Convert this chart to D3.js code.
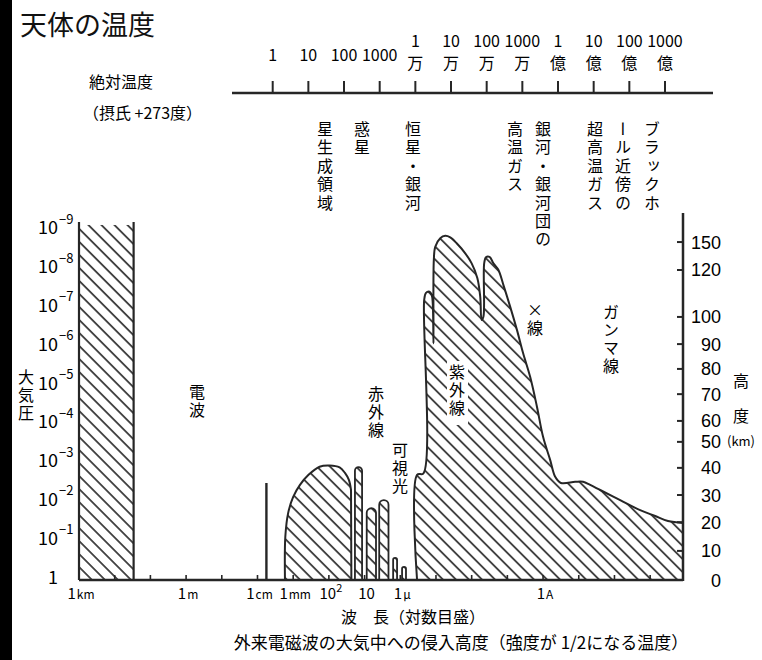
<!DOCTYPE html>
<html><head><meta charset="utf-8">
<script src="https://cdn.jsdelivr.net/npm/d3@7"></script>
<style>
body{margin:0;background:#fff;}
svg{display:block;font-family:"Noto Sans CJK JP","Noto Sans",sans-serif;}
</style></head><body>
<svg id="c" width="762" height="660"></svg>
<script>
// ---------- data ----------
// left axis: atmospheric pressure exponents (log10 atm)
const pressureExponents = [0,-1,-2,-3,-4,-5,-6,-7,-8,-9];
// right axis: altitude (km) and its pressure exponent
const altitudeKm = [0,10,20,30,40,50,60,70,80,90,100,120,150];
const altitudePressureExp = [0,-0.75,-1.49,-2.19,-2.89,-3.56,-4.10,-4.79,-5.44,-6.08,-6.78,-7.99,-8.71];
// bottom axis: wavelength exponents (log10 m) and labels
const wavelengthTickExp = [3,0,-2,-3,-4,-5,-6,-10];
const wavelengthNumbers = ['1','1','1','1','10','10','1','1'];
const wavelengthUnits = ['km','m','cm','mm','2','','μ','A'];
const wavelengthDecades = [2,1,0,-1,-2,-3,-4,-5,-6,-7,-8,-9,-10,-11,-12,-13];
// top axis: absolute temperature exponents (log10 K)
const temperatureExp = [0,1,2,3,4,5,6,7,8,9,10,11];
const temperatureNumbers = ['1','10','100','1000','1','10','100','1000','1','10','100','1000'];
const temperatureUnits = ['','','','','万','万','万','万','億','億','億','億'];
// penetration depth outlines: [log10 wavelength (m), log10 pressure (atm)]
const radioBand = [[3,-9.15],[1.47,-9.15]];
const radioSpike = [[-2.25,0],[-2.25,-2.5]];
const mmBand = [[-2.77,0],[-2.78,-1.12],[-2.86,-1.73],[-3.0,-2.14],[-3.19,-2.45],[-3.43,-2.71],[-3.74,-2.92],[-4.02,-2.95],[-4.30,-2.90],[-4.45,-2.76],[-4.56,-2.58],[-4.62,-2.32],[-4.63,0]];
const narrowBands = [[-4.73,-4.93,-2.91],[-5.06,-5.32,-1.85],[-5.41,-5.67,-2.06],[-5.80,-5.91,-0.57],[-6.05,-6.16,-0.34]];
const uvXrayGammaBand = [[-6.47,0],[-6.47,-2.71],[-6.65,-2.75],[-6.67,-7.22],[-6.72,-7.40],[-6.82,-7.43],[-6.88,-7.35],[-6.91,-7.13],[-6.93,-6.10],[-6.94,-8.25],[-6.98,-8.59],[-7.12,-8.81],[-7.26,-8.87],[-7.40,-8.83],[-7.58,-8.68],[-7.82,-8.42],[-8.00,-8.16],[-8.16,-7.78],[-8.24,-7.30],[-8.28,-6.70],[-8.33,-6.79],[-8.35,-8.16],[-8.40,-8.32],[-8.50,-8.33],[-8.61,-8.16],[-8.75,-7.99],[-8.89,-7.60],[-9.08,-7.04],[-9.27,-6.44],[-9.44,-5.85],[-9.64,-5.23],[-9.83,-4.46],[-10.00,-3.69],[-10.20,-3.09],[-10.34,-2.66],[-10.50,-2.50],[-10.90,-2.53],[-11.12,-2.53],[-11.32,-2.45],[-11.60,-2.32],[-12.16,-2.06],[-12.72,-1.80],[-13.14,-1.65],[-13.50,-1.52],[-13.92,-1.47],[-13.92,0]];

// ---------- drawing ----------
const svg = d3.select('#c');
const INK = '#262626';
const x = d3.scaleLinear().domain([3,-13.92]).range([79,683]);
const y = d3.scaleLinear().domain([0,-9]).range([580,580-9*38.8]);
const t = d3.scaleLinear().domain([0,11]).range([272.7,665]);

svg.append('rect').attr('x',0).attr('y',0).attr('width',762).attr('height',660).attr('fill','#fff');
svg.append('rect').attr('x',0).attr('y',0).attr('width',12).attr('height',660).attr('fill','#000');

const defs = svg.append('defs');
const pat = defs.append('pattern').attr('id','hatch').attr('patternUnits','userSpaceOnUse')
  .attr('width',9.2).attr('height',9.2).attr('patternTransform','rotate(45)');
pat.append('rect').attr('width',9.2).attr('height',9.2).attr('fill','#fff');
pat.append('line').attr('x1',-1).attr('x2',10.2).attr('y1',4.6).attr('y2',4.6)
  .attr('stroke',INK).attr('stroke-width',1.6);

// title
svg.append('text').attr('x',20).attr('y',35).attr('font-size',27).attr('fill','#111').text('天体の温度');

// top temperature axis
svg.append('text').attr('x',89).attr('y',88).attr('font-size',16).text('絶対温度');
svg.append('text').attr('x',83).attr('y',119).attr('font-size',16).text('（摂氏 +273度）');
svg.append('line').attr('x1',232).attr('x2',713).attr('y1',93).attr('y2',93).attr('stroke',INK).attr('stroke-width',2.5);
const tg = svg.append('g');
temperatureExp.forEach((e,i)=>{
  tg.append('line').attr('x1',t(e)).attr('x2',t(e)).attr('y1',81).attr('y2',93).attr('stroke',INK).attr('stroke-width',2);
  if(temperatureUnits[i]===''){
    tg.append('text').attr('x',t(e)).attr('y',61).attr('text-anchor','middle').attr('font-size',16).text(temperatureNumbers[i]);
  } else {
    tg.append('text').attr('x',t(e)).attr('y',47).attr('text-anchor','middle').attr('font-size',16).text(temperatureNumbers[i]);
    tg.append('text').attr('x',t(e)).attr('y',69).attr('text-anchor','middle').attr('font-size',16).text(temperatureUnits[i]);
  }
});

function vtext(str, cx, top, size, spacing){
  return svg.append('text').attr('x',cx).attr('y',top)
    .attr('style',`writing-mode:vertical-rl;font-size:${size}px;letter-spacing:${spacing}px`)
    .text(str);
}
// source labels
vtext('星生成領域',325,121,16,2.4);
vtext('惑星',362,121,16,2.4);
vtext('恒星・銀河',413,121,16,2.4);
vtext('高温ガス',515,121,16,2.4);
vtext('銀河・銀河団の',543,121,16,2.4);
vtext('超高温ガス',595,121,16,2.4);
vtext('ール近傍の',623,121,16,2.4);
vtext('ブラックホ',652,121,16,2.4);

// shapes
const line = d3.line().x(d=>x(d[0])).y(d=>y(d[1]));
const smooth = d3.line().x(d=>x(d[0])).y(d=>y(d[1])).curve(d3.curveCatmullRom.alpha(0.5));
function bandPath(pts){
  const last = pts[pts.length-1];
  return smooth(pts.slice(0,-1)) + `L${x(last[0])},${y(last[1])}`;
}

// radio column
svg.append('rect').attr('x',x(radioBand[0][0])).attr('y',y(radioBand[0][1]))
  .attr('width',x(radioBand[1][0])-x(radioBand[0][0])).attr('height',y(0)-y(radioBand[0][1]))
  .attr('fill','url(#hatch)');
svg.append('line').attr('x1',x(radioBand[1][0])).attr('x2',x(radioBand[1][0]))
  .attr('y1',y(radioBand[1][1])-3).attr('y2',y(0)).attr('stroke',INK).attr('stroke-width',2.2);
svg.append('path').attr('d',line(radioSpike)).attr('stroke',INK).attr('stroke-width',2.4).attr('fill','none');

svg.append('path').attr('d',bandPath(mmBand)).attr('fill','url(#hatch)').attr('stroke',INK).attr('stroke-width',2).attr('stroke-linejoin','round');
narrowBands.forEach(b=>{
  const x0=x(b[0]), x1=x(b[1]), yt=y(b[2]), yb=y(0), r=(x1-x0)/2;
  svg.append('path').attr('d',`M${x0},${yb}L${x0},${yt+r}A${r},${r} 0 0 1 ${x1},${yt+r}L${x1},${yb}`)
    .attr('fill','url(#hatch)').attr('stroke',INK).attr('stroke-width',1.8);
});
svg.append('path').attr('d',bandPath(uvXrayGammaBand)).attr('fill','url(#hatch)').attr('stroke',INK).attr('stroke-width',2).attr('stroke-linejoin','round');

// axes
svg.append('line').attr('x1',79).attr('x2',683).attr('y1',y(0)).attr('y2',y(0)).attr('stroke',INK).attr('stroke-width',2.5);
svg.append('line').attr('x1',79).attr('x2',79).attr('y1',y(radioBand[0][1])-3).attr('y2',y(0)).attr('stroke',INK).attr('stroke-width',2.2);
svg.append('line').attr('x1',683).attr('x2',683).attr('y1',213).attr('y2',y(0)+1).attr('stroke',INK).attr('stroke-width',2.5);
wavelengthDecades.forEach(e=>{
  svg.append('line').attr('x1',x(e)).attr('x2',x(e)).attr('y1',y(0)).attr('y2',y(0)-5).attr('stroke',INK).attr('stroke-width',1.6);
});

// left labels
pressureExponents.forEach(n=>{
  if(n===0){
    svg.append('text').attr('x',58).attr('y',y(n)+3.5).attr('text-anchor','end').attr('font-size',18).text('1');
  } else {
    svg.append('text').attr('x',58).attr('y',y(n)+3.5).attr('text-anchor','end').attr('font-size',18).text('10');
    svg.append('text').attr('x',59).attr('y',y(n)-7).attr('font-size',13).text('−'+(-n));
  }
});
vtext('大気圧',26,369,16,1.8);

// right labels
altitudeKm.forEach((a,i)=>{
  const yy=y(altitudePressureExp[i]);
  svg.append('line').attr('x1',677).attr('x2',683).attr('y1',yy).attr('y2',yy).attr('stroke',INK).attr('stroke-width',2);
  svg.append('text').attr('x',721).attr('y',yy+6.5).attr('text-anchor','end')
    .attr('font-family','"Liberation Sans", Arial, sans-serif').attr('font-size',18).text(a);
});
svg.append('text').attr('x',741).attr('y',387).attr('text-anchor','middle').attr('font-size',16).text('高');
svg.append('text').attr('x',741).attr('y',422).attr('text-anchor','middle').attr('font-size',16).text('度');
svg.append('text').attr('x',741).attr('y',446).attr('text-anchor','middle').attr('font-size',13).text('(km)');

// bottom labels
wavelengthTickExp.forEach((e,i)=>{
  const tx = svg.append('text').attr('x',x(e)+2).attr('y',599).attr('text-anchor','middle').attr('font-size',15);
  tx.append('tspan').text(wavelengthNumbers[i]);
  if(wavelengthUnits[i]==='2'){
    tx.append('tspan').attr('font-size',11).attr('dy',-7).text('2');
  } else if(wavelengthUnits[i]!==''){
    tx.append('tspan').attr('font-size',12).attr('dx',1).text(wavelengthUnits[i]);
  }
});
svg.append('text').attr('x',413).attr('y',623).attr('text-anchor','middle').attr('font-size',16).text('波　長（対数目盛）');
svg.append('text').attr('x',461).attr('y',649).attr('text-anchor','middle').attr('font-size',17).text('外来電磁波の大気中への侵入高度（強度が 1/2になる温度）');

// band names
vtext('電波',197,384,16,2.4);
vtext('赤外線',376,386,16,1.8);
vtext('可視光',400,442,16,2);
svg.append('rect').attr('x',447).attr('y',361).attr('width',21).attr('height',64).attr('fill','#fff');
vtext('紫外線',457,364,16,2);
vtext('×線',535,302,16,2);
vtext('ガンマ線',611,304,16,2);
</script>
</body></html>
